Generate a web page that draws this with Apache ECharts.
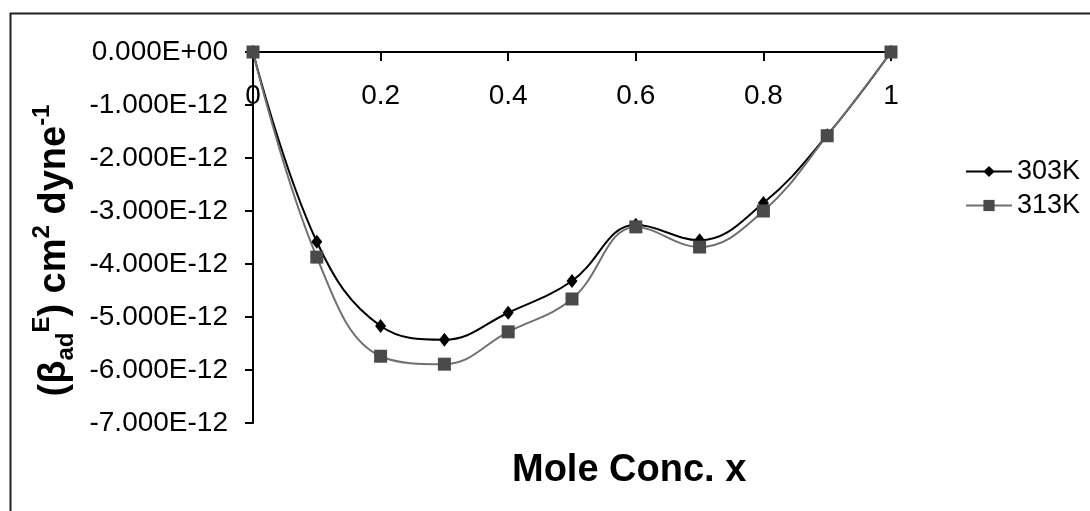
<!DOCTYPE html>
<html>
<head>
<meta charset="utf-8">
<script src="https://cdn.jsdelivr.net/npm/echarts@6/dist/echarts.min.js"></script>
<style>
html,body{margin:0;padding:0;background:#fff;}
#chart{width:1090px;height:511px;}
</style>
</head>
<body>
<div id="chart"></div>
<script>
var _$ = function(_id){return document.getElementById(_id)};

// mole conc. x
var moleConc = [0, 0.1, 0.2, 0.3, 0.4, 0.5, 0.6, 0.7, 0.8, 0.9, 1];
// beta_ad^E in units of 1E-12 cm2 dyne-1
var k303 = [0, -3.58, -5.17, -5.43, -4.92, -4.32, -3.26, -3.55, -2.85, -1.57, 0];
var k313 = [0, -3.87, -5.74, -5.89, -5.28, -4.66, -3.30, -3.68, -3.00, -1.58, 0];
var seriesNames = ['303K', '313K'];
var xTicks = ['0', '0.2', '0.4', '0.6', '0.8', '1'];
var yTicks = ['0.000E+00', '-1.000E-12', '-2.000E-12', '-3.000E-12', '-4.000E-12', '-5.000E-12', '-6.000E-12', '-7.000E-12'];

function pairs(xs, ys){
	var out = [];
	for(var i = 0; i < xs.length; i++){
		out.push([xs[i], ys[i]]);
	}
	return out;
}

function drawChart(){
	var chart = _$('chart');
	var myChart = echarts.init(chart);
	var font = 'Liberation Sans, Arial, sans-serif';
	var option = {
		animation: false,
		textStyle: {fontFamily: font, color: '#000'},
		grid: {left: 253, top: 52, right: 199, bottom: 88},
		legend: {
			orient: 'vertical',
			left: 960,
			top: 153,
			itemWidth: 46,
			itemHeight: 14,
			itemGap: 7,
			textStyle: {fontSize: 27, color: '#000', fontFamily: font},
			data: seriesNames
		},
		xAxis: {
			type: 'value',
			position: 'top',
			min: 0,
			max: 1,
			interval: 0.2,
			axisLine: {onZero: false, lineStyle: {color: '#000', width: 2}},
			axisTick: {inside: true, length: 9, lineStyle: {color: '#000', width: 2}},
			axisLabel: {
				inside: true,
				fontSize: 28,
				color: '#000',
				margin: 30,
				formatter: function(v){return xTicks[Math.round(v / 0.2)]}
			},
			splitLine: {show: false}
		},
		yAxis: {
			type: 'value',
			min: -7,
			max: 0,
			interval: 1,
			name: '{b|(β}{sub|ad}{sup|E}{b|) cm}{sup|2}{b| dyne}{sup|-1}',
			nameLocation: 'middle',
			nameRotate: 90,
			nameGap: 172,
			nameTextStyle: {
				padding: [0, 26, 0, 0],
				rich: {
					b: {fontSize: 38, fontWeight: 'bold', color: '#000', fontFamily: font, lineHeight: 48},
					sub: {fontSize: 24, fontWeight: 'bold', color: '#000', fontFamily: font, lineHeight: 24, verticalAlign: 'bottom'},
					sup: {fontSize: 24, fontWeight: 'bold', color: '#000', fontFamily: font, lineHeight: 24, verticalAlign: 'top'}
				}
			},
			axisLine: {show: true, onZero: true, lineStyle: {color: '#000', width: 2}},
			axisTick: {show: true, length: 8, lineStyle: {color: '#000', width: 2}},
			axisLabel: {
				fontSize: 28,
				color: '#000',
				margin: 25,
				formatter: function(v){return yTicks[Math.round(-v)]}
			},
			splitLine: {show: false}
		},
		graphic: [
			{
				type: 'rect',
				left: 8,
				top: 11,
				shape: {width: 1120, height: 540},
				style: {fill: 'none', stroke: '#222', lineWidth: 2}
			},
			{
				type: 'text',
				left: 512,
				top: 452,
				style: {text: 'Mole Conc. x', font: 'bold 38px ' + font, fill: '#000'}
			}
		],
		series: [
			{
				name: seriesNames[0],
				type: 'line',
				smooth: 0.4,
				symbol: 'diamond',
				symbolSize: [11, 14],
				itemStyle: {color: '#000'},
				lineStyle: {color: '#000', width: 2},
				data: pairs(moleConc, k303)
			},
			{
				name: seriesNames[1],
				type: 'line',
				smooth: 0.4,
				symbol: 'rect',
				symbolSize: 13,
				itemStyle: {color: '#4a4a4a'},
				lineStyle: {color: '#707070', width: 2},
				data: pairs(moleConc, k313)
			}
		]
	};
	myChart.setOption(option);
}

window.addEventListener('load', drawChart);
</script>
</body>
</html>
